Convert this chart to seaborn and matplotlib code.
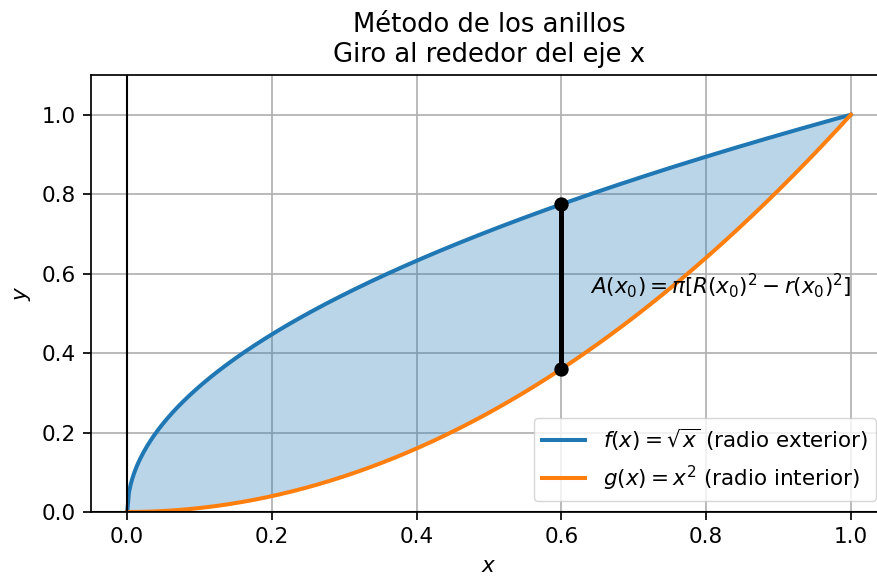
import numpy as np
import pandas as pd
import matplotlib
matplotlib.use("Agg")
import matplotlib.pyplot as plt
import seaborn as sns

# Sample points along [0, 1] and the two radii functions
x_vals = np.linspace(0.0, 1.0, 400)
outer_radius = np.sqrt(x_vals)   # f(x) = sqrt(x)
inner_radius = x_vals ** 2       # g(x) = x^2

# Sample slice position
x0 = 0.6
slice_x = [x0, x0]
slice_y = [x0 ** 2, np.sqrt(x0)]

x_ticks = [0.0, 0.2, 0.4, 0.6, 0.8, 1.0]
y_ticks = [0.0, 0.2, 0.4, 0.6, 0.8, 1.0]

title_text = "Método de los anillos\nGiro al rededor del eje x"
label_f = r"$f(x) = \sqrt{x}$ (radio exterior)"
label_g = r"$g(x) = x^2$ (radio interior)"
area_text = r"$A(x_0) = \pi[R(x_0)^2 - r(x_0)^2]$"

plt.rcParams["font.family"] = ["DejaVu Sans"]
k = 1.55          # overall scale of text and strokes
fs = 10 * k

df = pd.DataFrame({"x": x_vals, "f": outer_radius, "g": inner_radius})

fig = plt.figure(figsize=(8.77, 5.79), dpi=100)
ax = fig.add_axes([91 / 877, 67 / 579, 796 / 877, 437 / 579])

sns.lineplot(data=df, x="x", y="f", ax=ax, color="C0", lw=2.9, label=label_f)
sns.lineplot(data=df, x="x", y="g", ax=ax, color="C1", lw=2.9, label=label_g)
ax.fill_between(x_vals, inner_radius, outer_radius, color="C0", alpha=0.3, lw=0)

ax.plot(slice_x, slice_y, color="black", lw=3.6, marker="o", ms=9.3)
ax.axvline(0, color="black", lw=1.5)
ax.axhline(0, color="black", lw=1.5)

ax.text(0.64, 0.55, area_text, fontsize=fs)

ax.set_xlim(-0.05, 1.05)
ax.set_ylim(0, 1.1)
ax.set_xticks(x_ticks)
ax.set_yticks(y_ticks)
ax.tick_params(labelsize=fs, length=3.5 * k, width=0.8 * k, pad=3.5 * k)
ax.grid(True, color="#b0b0b0", lw=0.8 * k)
ax.set_axisbelow(True)
for s in ax.spines.values():
    s.set_linewidth(0.8 * k)

ax.set_xlabel("$x$", fontsize=fs, labelpad=4 * k)
ax.set_ylabel("$y$", fontsize=fs, labelpad=4 * k)
ax.set_title(title_text, fontsize=12 * k, pad=6 * k)
ax.legend(loc="lower right", fontsize=fs)

fig.savefig("out.png", dpi=100)
